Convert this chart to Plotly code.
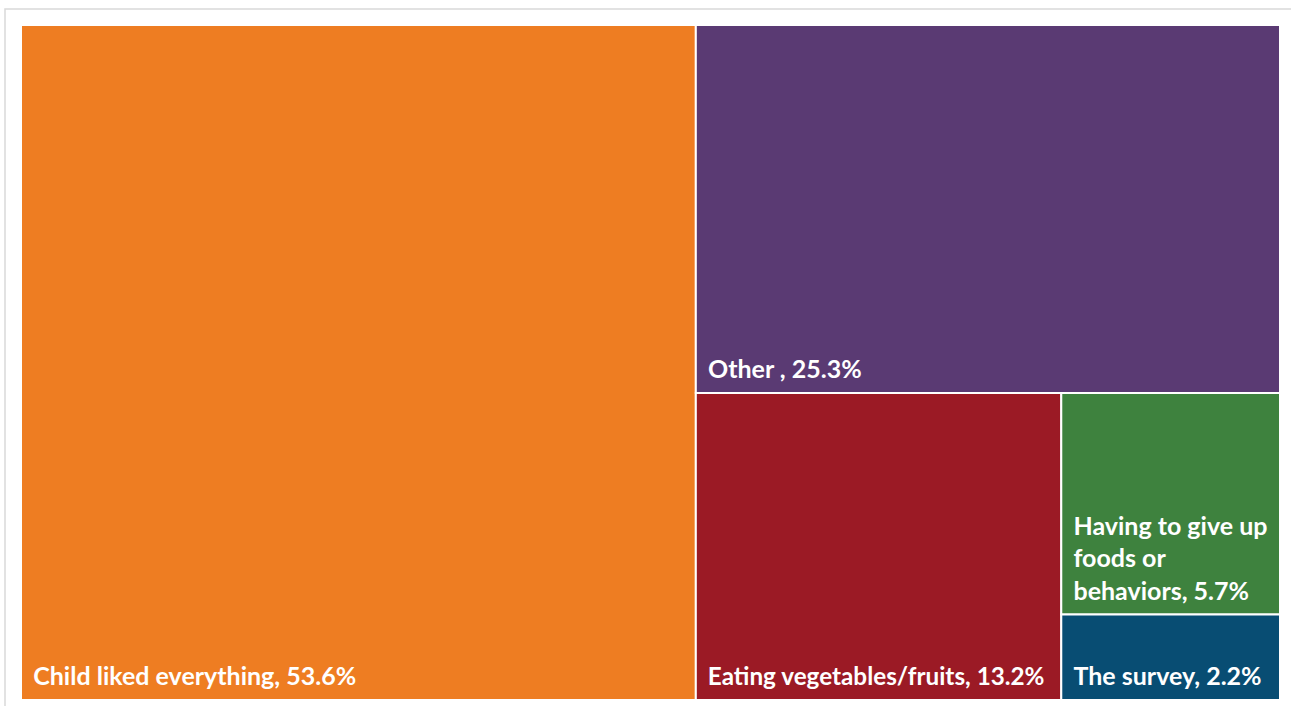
import plotly.graph_objects as go

# Share of responses (%) for each answer
labels = ["Child liked everything", "Other ", "Eating vegetables/fruits",
          "Having to give up foods or behaviors", "The survey"]
values = [53.6, 25.3, 13.2, 5.7, 2.2]
colors = ["#EE7D22", "#5A3A73", "#9B1A25", "#3E823E", "#084D73"]

# Line breaks used for the narrow tiles
wrapped = {"Having to give up foods or behaviors": ["Having to give up", "foods or", "behaviors"]}

W, H = 1291, 706
PAD = "\u00a0\u2009"
# invisible tall spacer that lifts the label off the tile's bottom edge
TAIL = '<span style="font-size:58px">\u00a0</span>'


def tile_text(label, value):
    lines = wrapped.get(label, [label])
    lines = lines[:-1] + [f"{lines[-1]}, {value:.1f}%{TAIL}"]
    return "<br>".join(PAD + ln for ln in lines)


texts = [tile_text(l, v) for l, v in zip(labels, values)]

fig = go.Figure(go.Treemap(
    labels=labels,
    parents=[""] * len(labels),
    values=values,
    text=texts,
    textinfo="text",
    textposition="bottom left",
    textfont=dict(family="Lato", size=25, color="white", weight="bold"),
    marker=dict(colors=colors, line=dict(color="white", width=2), depthfade=False,
                pad=dict(t=0, l=0, r=0, b=0)),
    pathbar=dict(visible=False),
    tiling=dict(packing="squarify", squarifyratio=1, pad=0),
    sort=False,
    hoverinfo="label+value",
    domain=dict(x=[21 / W, 1280 / W], y=[1 - 700 / H, 1 - 25 / H]),
))

# light frame around the chart area
fig.add_shape(type="rect", xref="paper", yref="paper",
              x0=5 / W, x1=1.01, y0=-0.01, y1=1 - 9 / H,
              line=dict(color="#D9D9D9", width=1.5), fillcolor="rgba(0,0,0,0)")

fig.update_layout(
    width=W, height=H,
    margin=dict(l=0, r=0, t=0, b=0),
    paper_bgcolor="white",
    plot_bgcolor="white",
    showlegend=False,
)

fig.write_html("out.html")
